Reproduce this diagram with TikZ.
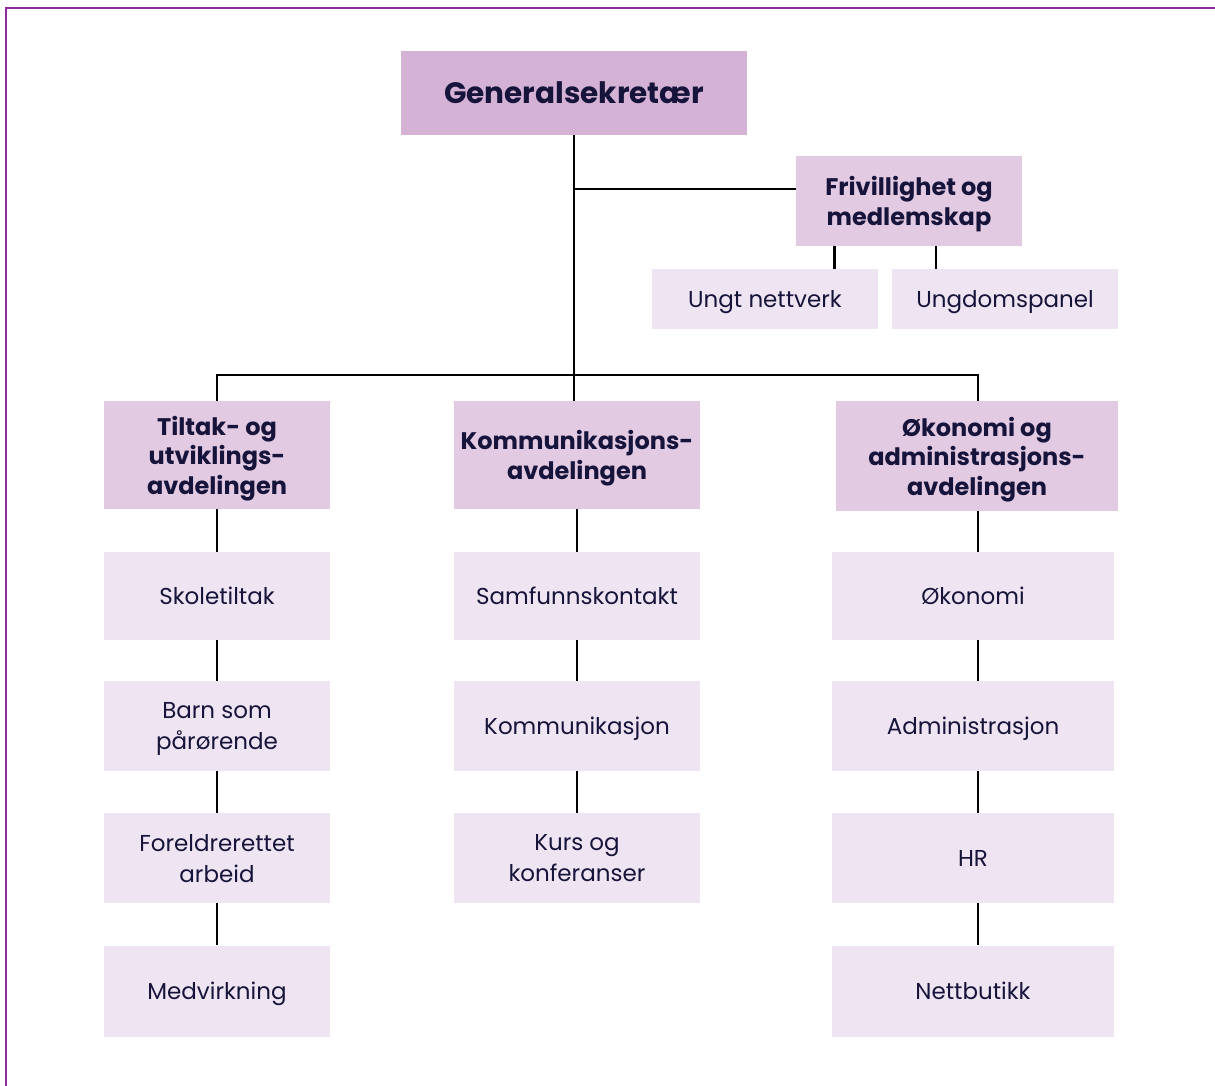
\documentclass[tikz,border=0pt]{standalone}
\usepackage{fontspec}
\setmainfont{Poppins}
\definecolor{ink}{HTML}{16143A}
\definecolor{topfill}{HTML}{D4B2D6}
\definecolor{deptfill}{HTML}{E2CAE3}
\definecolor{unitfill}{HTML}{EFE4F1}
\definecolor{frame}{HTML}{8E2A9B}
\tikzset{
  box/.style = {rectangle, inner sep=0pt, align=center, text=ink, text depth=-5pt,
    font=\fontsize{23}{31}\selectfont},
  topbox/.style = {box, fill=topfill, font=\fontsize{29.5}{34}\selectfont\bfseries},
  deptbox/.style = {box, fill=deptfill, font=\fontsize{24}{29.5}\selectfont\bfseries},
  unitbox/.style = {box, fill=unitfill},
  link/.style = {draw=black, line width=2.6pt}
}

\begin{document}
\begin{tikzpicture}[x=1pt,y=-1pt]
  \useasboundingbox (0,0) rectangle (1215,1086);
  \def\ColA{217}
  \def\ColB{577}
  \def\ColC{973}
  % frame
  \draw[frame,line width=2.5pt] (1215,8) -- (6,8) -- (6,1086);
  % top
  \node[topbox,minimum width=346,minimum height=84] (gen) at (574,93) {Generalsekretær};
  \node[deptbox,minimum width=226,minimum height=90] (friv) at (909,201) {Frivillighet og\\medlemskap};
  \node[unitbox,minimum width=226,minimum height=60] (ungt) at (765,299) {Ungt nettverk};
  \node[unitbox,minimum width=226,minimum height=60] (panel) at (1005,299) {Ungdomspanel};
  % departments
  \node[deptbox,minimum width=226,minimum height=108] (tiltak) at (\ColA,455) {Tiltak- og\\utviklings-\\avdelingen};
  \node[deptbox,minimum width=246,minimum height=108] (komm) at (\ColB,455) {Kommunikasjons-\\avdelingen};
  \node[deptbox,minimum width=282,minimum height=110] (okon) at (977,456) {Økonomi og\\administrasjons-\\avdelingen};
  % units, left
  \node[unitbox,minimum width=226,minimum height=88] (skole) at (\ColA,596) {Skoletiltak};
  \node[unitbox,minimum width=226,minimum height=90] (barn) at (\ColA,726) {Barn som\\pårørende};
  \node[unitbox,minimum width=226,minimum height=90] (foreldre) at (\ColA,858) {Foreldrerettet\\arbeid};
  \node[unitbox,minimum width=226,minimum height=91] (medv) at (\ColA,991) {Medvirkning};
  % units, middle
  \node[unitbox,minimum width=246,minimum height=88] (samf) at (\ColB,596) {Samfunnskontakt};
  \node[unitbox,minimum width=246,minimum height=90] (kommunik) at (\ColB,726) {Kommunikasjon};
  \node[unitbox,minimum width=246,minimum height=90] (kurs) at (\ColB,858) {Kurs og\\konferanser};
  % units, right
  \node[unitbox,minimum width=282,minimum height=88] (okonomi) at (\ColC,596) {Økonomi};
  \node[unitbox,minimum width=282,minimum height=90] (admin) at (\ColC,726) {Administrasjon};
  \node[unitbox,minimum width=282,minimum height=90] (hr) at (\ColC,858) {HR};
  \node[unitbox,minimum width=282,minimum height=91] (nett) at (\ColC,991) {Nettbutikk};
  % connectors
  \coordinate (bus) at (574,375);
  \coordinate (frivin) at (796,189);
  \draw[link] (gen.south) -- (bus);
  \draw[link] (gen.south |- frivin) -- (frivin);
  \draw[link] ([xshift=-44pt]ungt.north east |- friv.south) -- ([xshift=-44pt]ungt.north east);
  \draw[link] ([xshift=44pt]panel.north west |- friv.south) -- ([xshift=44pt]panel.north west);
  \draw[link] (tiltak.north) -- (tiltak.north |- bus) -- (978,375) -- (978,375 |- okon.north);
  \draw[link] (bus) -- (bus |- komm.north);
  \draw[link] (tiltak) -- (skole) (skole) -- (barn) (barn) -- (foreldre) (foreldre) -- (medv);
  \draw[link] (komm) -- (samf) (samf) -- (kommunik) (kommunik) -- (kurs);
  \draw[link] ([xshift=5pt]okonomi.north) -- ([xshift=5pt]okonomi.north |- okon.south);
  \draw[link] ([xshift=5pt]okonomi.south) -- ([xshift=5pt]admin.north);
  \draw[link] ([xshift=5pt]admin.south) -- ([xshift=5pt]hr.north);
  \draw[link] ([xshift=5pt]hr.south) -- ([xshift=5pt]nett.north);
\end{tikzpicture}
\end{document}
